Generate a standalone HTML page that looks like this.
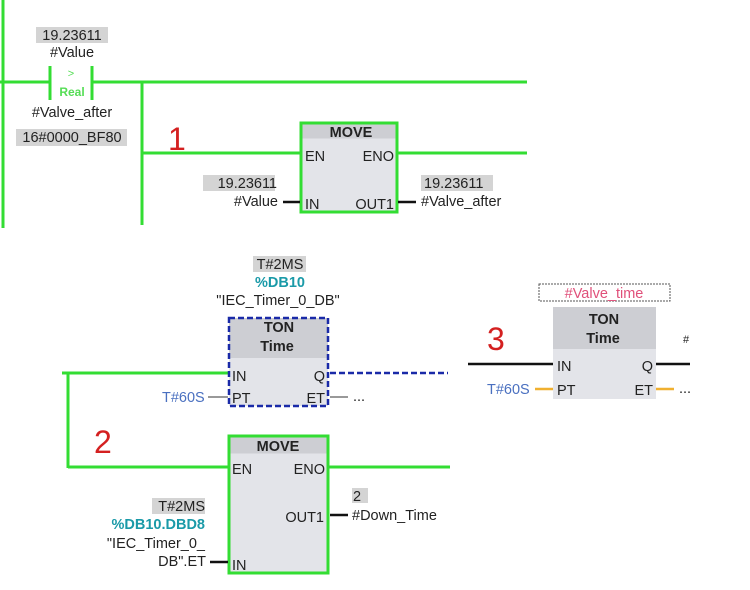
<!DOCTYPE html>
<html><head><meta charset="utf-8"><style>
html,body{margin:0;padding:0;background:#fff;width:750px;height:590px;overflow:hidden}
svg{display:block}
text{font-family:"Liberation Sans","DejaVu Sans",sans-serif;font-size:14.5px;fill:#222}
.b{font-weight:bold}
</style></head><body>
<svg width="750" height="590" viewBox="0 0 750 590" xmlns="http://www.w3.org/2000/svg">
<g stroke="#33dd33" stroke-width="3" fill="none">
<line x1="3" y1="0" x2="3" y2="228"/>
<line x1="0" y1="82" x2="50" y2="82"/>
<line x1="92" y1="82" x2="527" y2="82"/>
<line x1="50" y1="66" x2="50" y2="100"/>
<line x1="92" y1="66" x2="92" y2="100"/>
<line x1="142" y1="82" x2="142" y2="225"/>
<line x1="142" y1="153" x2="300" y2="153"/>
<line x1="397" y1="153" x2="527" y2="153"/>
<line x1="62" y1="373" x2="228" y2="373"/>
<line x1="68" y1="373" x2="68" y2="468"/>
<line x1="68" y1="467" x2="229" y2="467"/>
<line x1="329" y1="467" x2="450" y2="467"/>
</g>
<rect x="36" y="27" width="72" height="16" fill="#d4d4d4"/>
<text x="72" y="40" text-anchor="middle">19.23611</text>
<text x="72" y="57" text-anchor="middle">#Value</text>
<text x="71" y="77" text-anchor="middle" style="fill:#55dd55;font-size:11px">&gt;</text>
<text x="72" y="96" text-anchor="middle" class="b" style="fill:#55dd55;font-size:12px">Real</text>
<text x="72" y="117" text-anchor="middle">#Valve_after</text>
<rect x="16" y="129" width="111" height="17" fill="#d4d4d4"/>
<text x="72" y="142" text-anchor="middle">16#0000_BF80</text>
<text x="168" y="150" style="fill:#d42020;font-size:32px">1</text>
<rect x="301" y="123" width="96" height="89" fill="#e3e4e9" stroke="#33dd33" stroke-width="3"/>
<rect x="302.5" y="124.5" width="93" height="14" fill="#cdced3"/>
<text x="351" y="137" text-anchor="middle" class="b">MOVE</text>
<text x="305" y="161">EN</text>
<text x="394" y="161" text-anchor="end">ENO</text>
<text x="305" y="209">IN</text>
<text x="394" y="209" text-anchor="end">OUT1</text>
<line x1="283" y1="202" x2="300" y2="202" stroke="#111" stroke-width="2.5"/>
<line x1="398" y1="202" x2="416" y2="202" stroke="#111" stroke-width="2.5"/>
<rect x="203" y="175" width="72" height="16" fill="#d4d4d4"/>
<text x="277" y="188" text-anchor="end">19.23611</text>
<text x="278" y="206" text-anchor="end">#Value</text>
<rect x="421" y="175" width="72" height="16" fill="#d4d4d4"/>
<text x="424" y="188">19.23611</text>
<text x="421" y="206">#Valve_after</text>
<rect x="253" y="256" width="53" height="16" fill="#d4d4d4"/>
<text x="280" y="269" text-anchor="middle">T#2MS</text>
<text x="280" y="287" text-anchor="middle" class="b" style="fill:#1a9aa8">%DB10</text>
<text x="278" y="305" text-anchor="middle">"IEC_Timer_0_DB"</text>
<rect x="229" y="318" width="99" height="88" fill="#e3e4e9"/>
<rect x="229" y="318" width="99" height="40" fill="#cdced3"/>
<rect x="229" y="318" width="99" height="88" fill="none" stroke="#1a2aa8" stroke-width="2.5" stroke-dasharray="6,3"/>
<text x="279" y="332" text-anchor="middle" class="b">TON</text>
<text x="277" y="351" text-anchor="middle" class="b">Time</text>
<text x="232" y="381">IN</text>
<text x="232" y="403">PT</text>
<text x="325" y="381" text-anchor="end">Q</text>
<text x="325" y="403" text-anchor="end">ET</text>
<line x1="330" y1="373" x2="448" y2="373" stroke="#1a2aa8" stroke-width="2.5" stroke-dasharray="6,3"/>
<line x1="208" y1="397" x2="228" y2="397" stroke="#999" stroke-width="2"/>
<line x1="330" y1="397" x2="348" y2="397" stroke="#999" stroke-width="2"/>
<text x="162" y="402" style="fill:#4a70c0">T#60S</text>
<text x="353" y="401">...</text>
<text x="94" y="453" style="fill:#d42020;font-size:32px">2</text>
<rect x="229" y="436" width="99" height="137" fill="#e3e4e9" stroke="#33dd33" stroke-width="3"/>
<rect x="230.5" y="437.5" width="96" height="16" fill="#cdced3"/>
<text x="278" y="451" text-anchor="middle" class="b">MOVE</text>
<text x="232" y="474">EN</text>
<text x="325" y="474" text-anchor="end">ENO</text>
<text x="324" y="522" text-anchor="end">OUT1</text>
<text x="232" y="570">IN</text>
<line x1="330" y1="515" x2="348" y2="515" stroke="#111" stroke-width="2.5"/>
<line x1="210" y1="562" x2="228" y2="562" stroke="#111" stroke-width="2.5"/>
<rect x="352" y="488" width="16" height="15" fill="#d4d4d4"/>
<text x="353" y="501">2</text>
<text x="352" y="520">#Down_Time</text>
<rect x="152" y="498" width="53" height="16" fill="#d4d4d4"/>
<text x="205" y="511" text-anchor="end">T#2MS</text>
<text x="205" y="529" text-anchor="end" class="b" style="fill:#1a9aa8">%DB10.DBD8</text>
<text x="205" y="548" text-anchor="end">"IEC_Timer_0_</text>
<text x="206" y="566" text-anchor="end">DB".ET</text>
<rect x="539" y="284" width="131" height="17" fill="#fff" stroke="#555" stroke-width="1" stroke-dasharray="2,1"/>
<text x="604" y="298" text-anchor="middle" style="fill:#e0507a">#Valve_time</text>
<text x="487" y="350" style="fill:#d42020;font-size:32px">3</text>
<rect x="553" y="307" width="103" height="92" fill="#e3e4e9"/>
<rect x="553" y="307" width="103" height="42" fill="#cdced3"/>
<text x="604" y="324" text-anchor="middle" class="b">TON</text>
<text x="603" y="343" text-anchor="middle" class="b">Time</text>
<text x="557" y="371">IN</text>
<text x="557" y="395">PT</text>
<text x="653" y="371" text-anchor="end">Q</text>
<text x="653" y="395" text-anchor="end">ET</text>
<line x1="468" y1="364" x2="553" y2="364" stroke="#111" stroke-width="2.5"/>
<line x1="656" y1="364" x2="690" y2="364" stroke="#111" stroke-width="2.5"/>
<line x1="535" y1="389" x2="553" y2="389" stroke="#f0b030" stroke-width="2.5"/>
<line x1="656" y1="389" x2="674" y2="389" stroke="#f0b030" stroke-width="2.5"/>
<text x="487" y="394" style="fill:#4a70c0">T#60S</text>
<text x="679" y="393">...</text>
<text x="683" y="343" style="font-size:11px">#</text>
</svg>
</body></html>
